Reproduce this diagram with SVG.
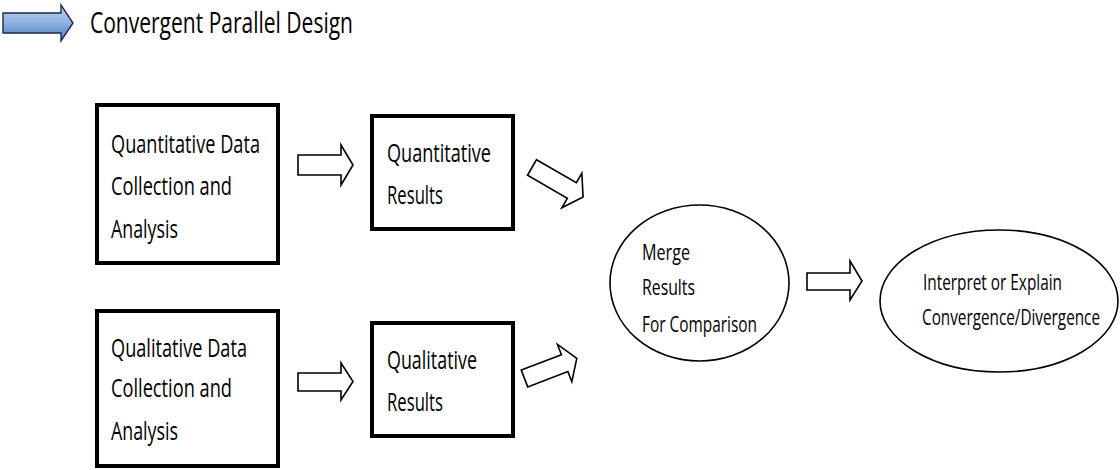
<svg xmlns="http://www.w3.org/2000/svg" width="1120" height="470" viewBox="0 0 1120 470">
  <style>
    text { font-family: "Open Sans", "Noto Sans", "Liberation Sans", sans-serif; fill: #000; }
    .lbl { font-size: 26px; }
    .small { font-size: 21px; }
    .title { font-size: 29px; }
    .box { fill: #fff; stroke: #000; stroke-width: 4; }
    .oval { fill: #fff; stroke: #000; stroke-width: 1.6; }
    .flow { fill: #fff; stroke: #000; stroke-width: 1.6; stroke-linejoin: miter; }
  </style>
  <defs>
    <linearGradient id="blueFill" x1="0" y1="0" x2="0" y2="1">
      <stop offset="0" stop-color="#c3d6f2"/>
      <stop offset="0.5" stop-color="#8fb0e0"/>
      <stop offset="1" stop-color="#4f7fc4"/>
    </linearGradient>
  </defs>

  <!-- heading -->
  <g id="heading">
    <path d="M3,13 H61 V5 L73,23 L61,41 V33 H3 Z" fill="url(#blueFill)" stroke="#1b2a44" stroke-width="1.4"/>
    <text class="title" x="90" y="33" textLength="263" lengthAdjust="spacingAndGlyphs">Convergent Parallel Design</text>
  </g>

  <!-- quantitative strand -->
  <g id="quant-data">
    <rect class="box" x="97" y="105" width="181" height="158"/>
    <text class="lbl" x="111" y="153" textLength="149" lengthAdjust="spacingAndGlyphs">Quantitative Data</text>
    <text class="lbl" x="111" y="195" textLength="121" lengthAdjust="spacingAndGlyphs">Collection and</text>
    <text class="lbl" x="111" y="238" textLength="67" lengthAdjust="spacingAndGlyphs">Analysis</text>
  </g>
  <g id="quant-results">
    <rect class="box" x="372" y="116" width="141" height="113"/>
    <text class="lbl" x="387" y="162" textLength="104" lengthAdjust="spacingAndGlyphs">Quantitative</text>
    <text class="lbl" x="387" y="204" textLength="56" lengthAdjust="spacingAndGlyphs">Results</text>
  </g>

  <!-- qualitative strand -->
  <g id="qual-data">
    <rect class="box" x="97" y="311" width="181" height="155"/>
    <text class="lbl" x="111" y="357" textLength="136" lengthAdjust="spacingAndGlyphs">Qualitative Data</text>
    <text class="lbl" x="111" y="397" textLength="121" lengthAdjust="spacingAndGlyphs">Collection and</text>
    <text class="lbl" x="111" y="440" textLength="67" lengthAdjust="spacingAndGlyphs">Analysis</text>
  </g>
  <g id="qual-results">
    <rect class="box" x="372" y="323" width="141" height="113"/>
    <text class="lbl" x="387" y="369" textLength="90" lengthAdjust="spacingAndGlyphs">Qualitative</text>
    <text class="lbl" x="387" y="411" textLength="56" lengthAdjust="spacingAndGlyphs">Results</text>
  </g>

  <!-- merge and interpretation -->
  <g id="merge">
    <ellipse class="oval" cx="699.5" cy="283" rx="89.5" ry="78"/>
    <text class="small" x="642" y="260" textLength="48" lengthAdjust="spacingAndGlyphs">Merge</text>
    <text class="small" x="642" y="295" textLength="53" lengthAdjust="spacingAndGlyphs">Results</text>
    <text class="small" x="642" y="332" textLength="115" lengthAdjust="spacingAndGlyphs">For Comparison</text>
  </g>
  <g id="interpret">
    <ellipse class="oval" cx="999" cy="301" rx="119" ry="71"/>
    <text class="small" x="923" y="290" textLength="139" lengthAdjust="spacingAndGlyphs">Interpret or Explain</text>
    <text class="small" x="922" y="325" textLength="178" lengthAdjust="spacingAndGlyphs">Convergence/Divergence</text>
  </g>

  <!-- hollow block arrows between stages -->
  <g id="connectors">
    <path class="flow" d="M298,155 H341 V145 L353,165 L341,185 V175 H298 Z"/>
    <path class="flow" d="M298,373 H341 V363 L353,381.5 L341,400 V391 H298 Z"/>
    <path class="flow" d="M807,273 H850 V261 L862,281 L850,300 V290 H807 Z"/>
    <path class="flow" transform="translate(532,167.5) rotate(30)" d="M0,-9 H46 V-20 L59,0 L46,20 V9 H0 Z"/>
    <path class="flow" transform="translate(524.5,378.5) rotate(-21)" d="M0,-9 H43 V-20 L56,0 L43,20 V9 H0 Z"/>
  </g>
</svg>
